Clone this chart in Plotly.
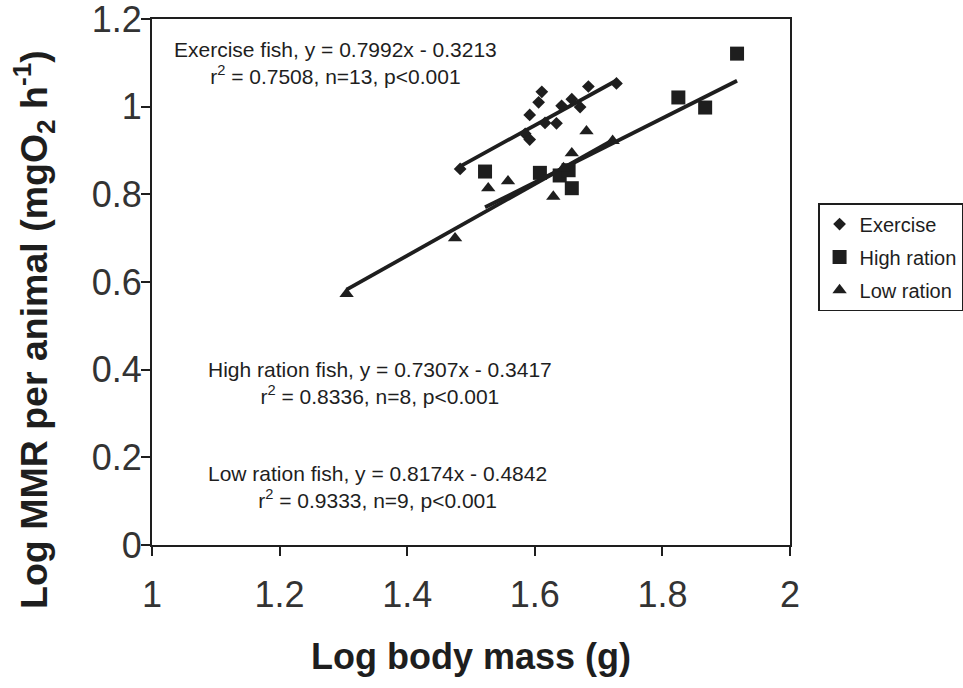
import plotly.graph_objects as go

# Log body mass (g) and log MMR per animal for each treatment group
exercise_x = [1.483, 1.585, 1.592, 1.592, 1.606, 1.611, 1.616, 1.634, 1.642, 1.658, 1.671, 1.684, 1.728]
exercise_y = [0.858, 0.938, 0.925, 0.981, 1.010, 1.034, 0.963, 0.962, 1.002, 1.017, 0.999, 1.046, 1.053]

high_x = [1.522, 1.608, 1.639, 1.653, 1.658, 1.825, 1.867, 1.917]
high_y = [0.852, 0.849, 0.843, 0.855, 0.814, 1.021, 0.998, 1.121]

low_x = [1.305, 1.475, 1.527, 1.558, 1.629, 1.645, 1.658, 1.681, 1.722]
low_y = [0.573, 0.700, 0.814, 0.830, 0.795, 0.860, 0.894, 0.944, 0.922]

# Regression coefficients (slope, intercept) per group
groups = ["Exercise", "High ration", "Low ration"]
slopes = [0.7992, 0.7307, 0.8174]
intercepts = [-0.3213, -0.3417, -0.4842]

x_ticks = [1, 1.2, 1.4, 1.6, 1.8, 2]
x_tick_labels = ["1", "1.2", "1.4", "1.6", "1.8", "2"]
y_ticks = [0, 0.2, 0.4, 0.6, 0.8, 1.0, 1.2]
y_tick_labels = ["0", "0.2", "0.4", "0.6", "0.8", "1", "1.2"]

stats_text = [
    "Exercise fish, y = 0.7992x - 0.3213<br>r<sup>2</sup> = 0.7508, n=13, p<0.001",
    "High ration fish, y = 0.7307x - 0.3417<br>r<sup>2</sup> = 0.8336, n=8, p<0.001",
    "Low ration fish, y = 0.8174x - 0.4842<br>r<sup>2</sup> = 0.9333, n=9, p<0.001",
]
stats_pos = [(1.288, 1.100), (1.358, 0.369), (1.354, 0.133)]

INK = "#1e1e1e"
FONT = "Liberation Sans, Arial, sans-serif"

series = [
    (exercise_x, exercise_y, "diamond", 9.8),
    (high_x, high_y, "square", 14),
    (low_x, low_y, "triangle-up", 12.5),
]

fig = go.Figure()

# Fitted lines drawn over each group's body-mass range
for (xs, ys, _, _), m, b in zip(series, slopes, intercepts):
    x0, x1 = min(xs), max(xs)
    fig.add_trace(go.Scatter(
        x=[x0, x1], y=[m * x0 + b, m * x1 + b], mode="lines",
        line=dict(color=INK, width=3.8), showlegend=False, hoverinfo="skip",
    ))

for (xs, ys, sym, size), name in zip(series, groups):
    fig.add_trace(go.Scatter(
        x=xs, y=ys, mode="markers", name=name, legendgroup=name,
        marker=dict(symbol=sym, size=size, color=INK, line=dict(width=0)),
    ))

for txt, (ax, ay) in zip(stats_text, stats_pos):
    fig.add_annotation(
        x=ax, y=ay, xref="x", yref="y", text=txt, showarrow=False,
        font=dict(family=FONT, size=21, color=INK), align="center",
    )

# Y-axis title, placed as rotated text left of the tick labels
fig.add_annotation(
    x=-0.184, y=0.41, xref="paper", yref="paper",
    text="<b>Log MMR per animal (mgO<sub>2</sub> h<sup>-1</sup>)</b>",
    textangle=-90, showarrow=False, xanchor="center", yanchor="middle",
    font=dict(family=FONT, size=37.5, color=INK),
)

fig.update_layout(
    width=963, height=688,
    margin=dict(l=152, r=173, t=19, b=143, autoexpand=False),
    paper_bgcolor="white", plot_bgcolor="white",
    font=dict(family=FONT, color=INK),
    legend=dict(
        x=1.044, y=0.650, xanchor="left", yanchor="top",
        bordercolor=INK, borderwidth=1.5, bgcolor="white",
        font=dict(family=FONT, size=20, color=INK),
        tracegroupgap=4, traceorder="grouped",
        itemsizing="trace",
    ),
    xaxis=dict(
        range=[1, 2], tickvals=x_ticks, ticktext=x_tick_labels,
        showgrid=False, zeroline=False,
        showline=True, linecolor=INK, linewidth=2, mirror=True,
        ticks="outside", ticklen=9, tickwidth=2, tickcolor=INK,
        ticklabelstandoff=8, ticklabeloverflow="allow",
        tickfont=dict(family=FONT, size=36, color="#333333"),
        title=dict(text="<b>Log body mass (g)</b>",
                   font=dict(family=FONT, size=36, color=INK), standoff=30),
    ),
    yaxis=dict(
        range=[0, 1.2], tickvals=y_ticks, ticktext=y_tick_labels,
        showgrid=False, zeroline=False,
        showline=True, linecolor=INK, linewidth=2, mirror=True,
        ticks="outside", ticklen=9, tickwidth=2, tickcolor=INK,
        ticklabelstandoff=-8, ticklabeloverflow="allow",
        tickfont=dict(family=FONT, size=36, color="#333333"),
    ),
)

fig.write_html("out.html")
